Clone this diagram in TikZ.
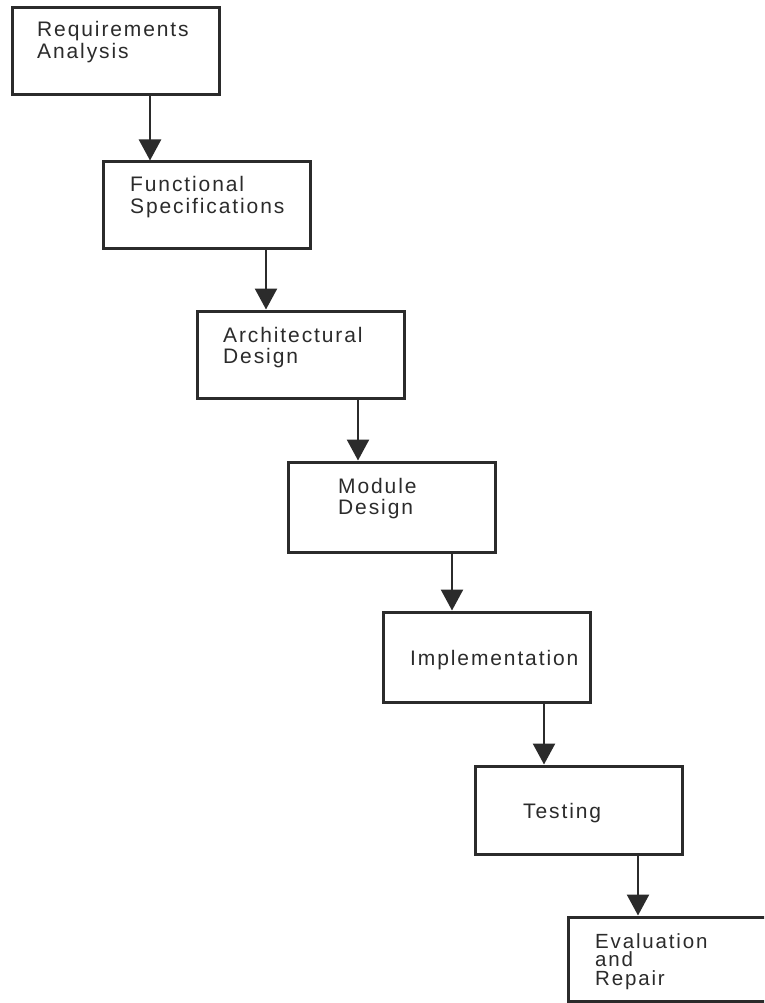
\documentclass[tikz,border=0pt]{standalone}
\usepackage{fontspec}
\setmainfont{Liberation Sans}[LetterSpace=9]
\usetikzlibrary{arrows.meta}
\definecolor{ink}{HTML}{2B2B2B}

\tikzset{
  stagebox/.style={draw=ink, line width=3pt, anchor=north west, inner sep=0pt, outer sep=0pt,
    minimum width=207pt, minimum height=88pt},
  stagetext/.style={anchor=base west, align=left, inner sep=0pt, text=ink,
    font=\fontsize{21}{21.5}\selectfont},
  flow/.style={draw=ink, line width=2.5pt, -{Triangle[width=22pt,length=21pt]}, shorten >=1.5pt},
}

\begin{document}
\begin{tikzpicture}[x=1pt,y=-1pt]
    \useasboundingbox (0,0) rectangle (764,1003);
    \clip (0,0) rectangle (764,1003);
    \fill[white] (0,0) rectangle (764,1003);
    % the stages
    \node[stagebox, minimum height=87pt] (req) at (12,8) {};
    \node[stagebox, minimum height=86pt] (fspec) at (103,162) {};
    \node[stagebox, minimum height=87pt] (arch) at (197,311) {};
    \node[stagebox, minimum height=90pt] (modd) at (288,462) {};
    \node[stagebox, minimum height=90pt] (impl) at (383,612) {};
    \node[stagebox] (test) at (475,766) {};
    \node[stagebox, minimum height=84pt] (evrep) at (568,917) {};
    % their texts (base = last line)
    \node[stagetext] (reqtext) at ([shift={(25,50.5)}]req.north west) {Requirements\\Analysis};
    \node[stagetext] (fspectext) at ([shift={(27,51.5)}]fspec.north west) {Functional\\Specifications};
    \node[stagetext] (archtext) at ([shift={(26,52.5)}]arch.north west) {Architectural\\Design};
    \node[stagetext] (moddtext) at ([shift={(50,52.5)}]modd.north west) {Module\\Design};
    \node[stagetext] (impltext) at ([shift={(27,53)}]impl.north west) {Implementation};
    \node[stagetext] (testtext) at ([shift={(48,52)}]test.north west) {Testing};
    \node[stagetext, font=\fontsize{20.5}{18.5}\selectfont] (evreptext) at ([shift={(27,68)}]evrep.north west) {Evaluation\\and\\Repair};
    % arrows down the cascade
    \draw[flow] ([xshift=138pt]req.south west) -- ([xshift=47pt]fspec.north west);
    \draw[flow] ([xshift=163pt]fspec.south west) -- ([xshift=69pt]arch.north west);
    \draw[flow] ([xshift=161pt]arch.south west) -- ([xshift=70pt]modd.north west);
    \draw[flow] ([xshift=164pt]modd.south west) -- ([xshift=69pt]impl.north west);
    \draw[flow] ([xshift=161pt]impl.south west) -- ([xshift=69pt]test.north west);
    \draw[flow] ([xshift=163pt]test.south west) -- ([xshift=70pt]evrep.north west);
\end{tikzpicture}
\end{document}
